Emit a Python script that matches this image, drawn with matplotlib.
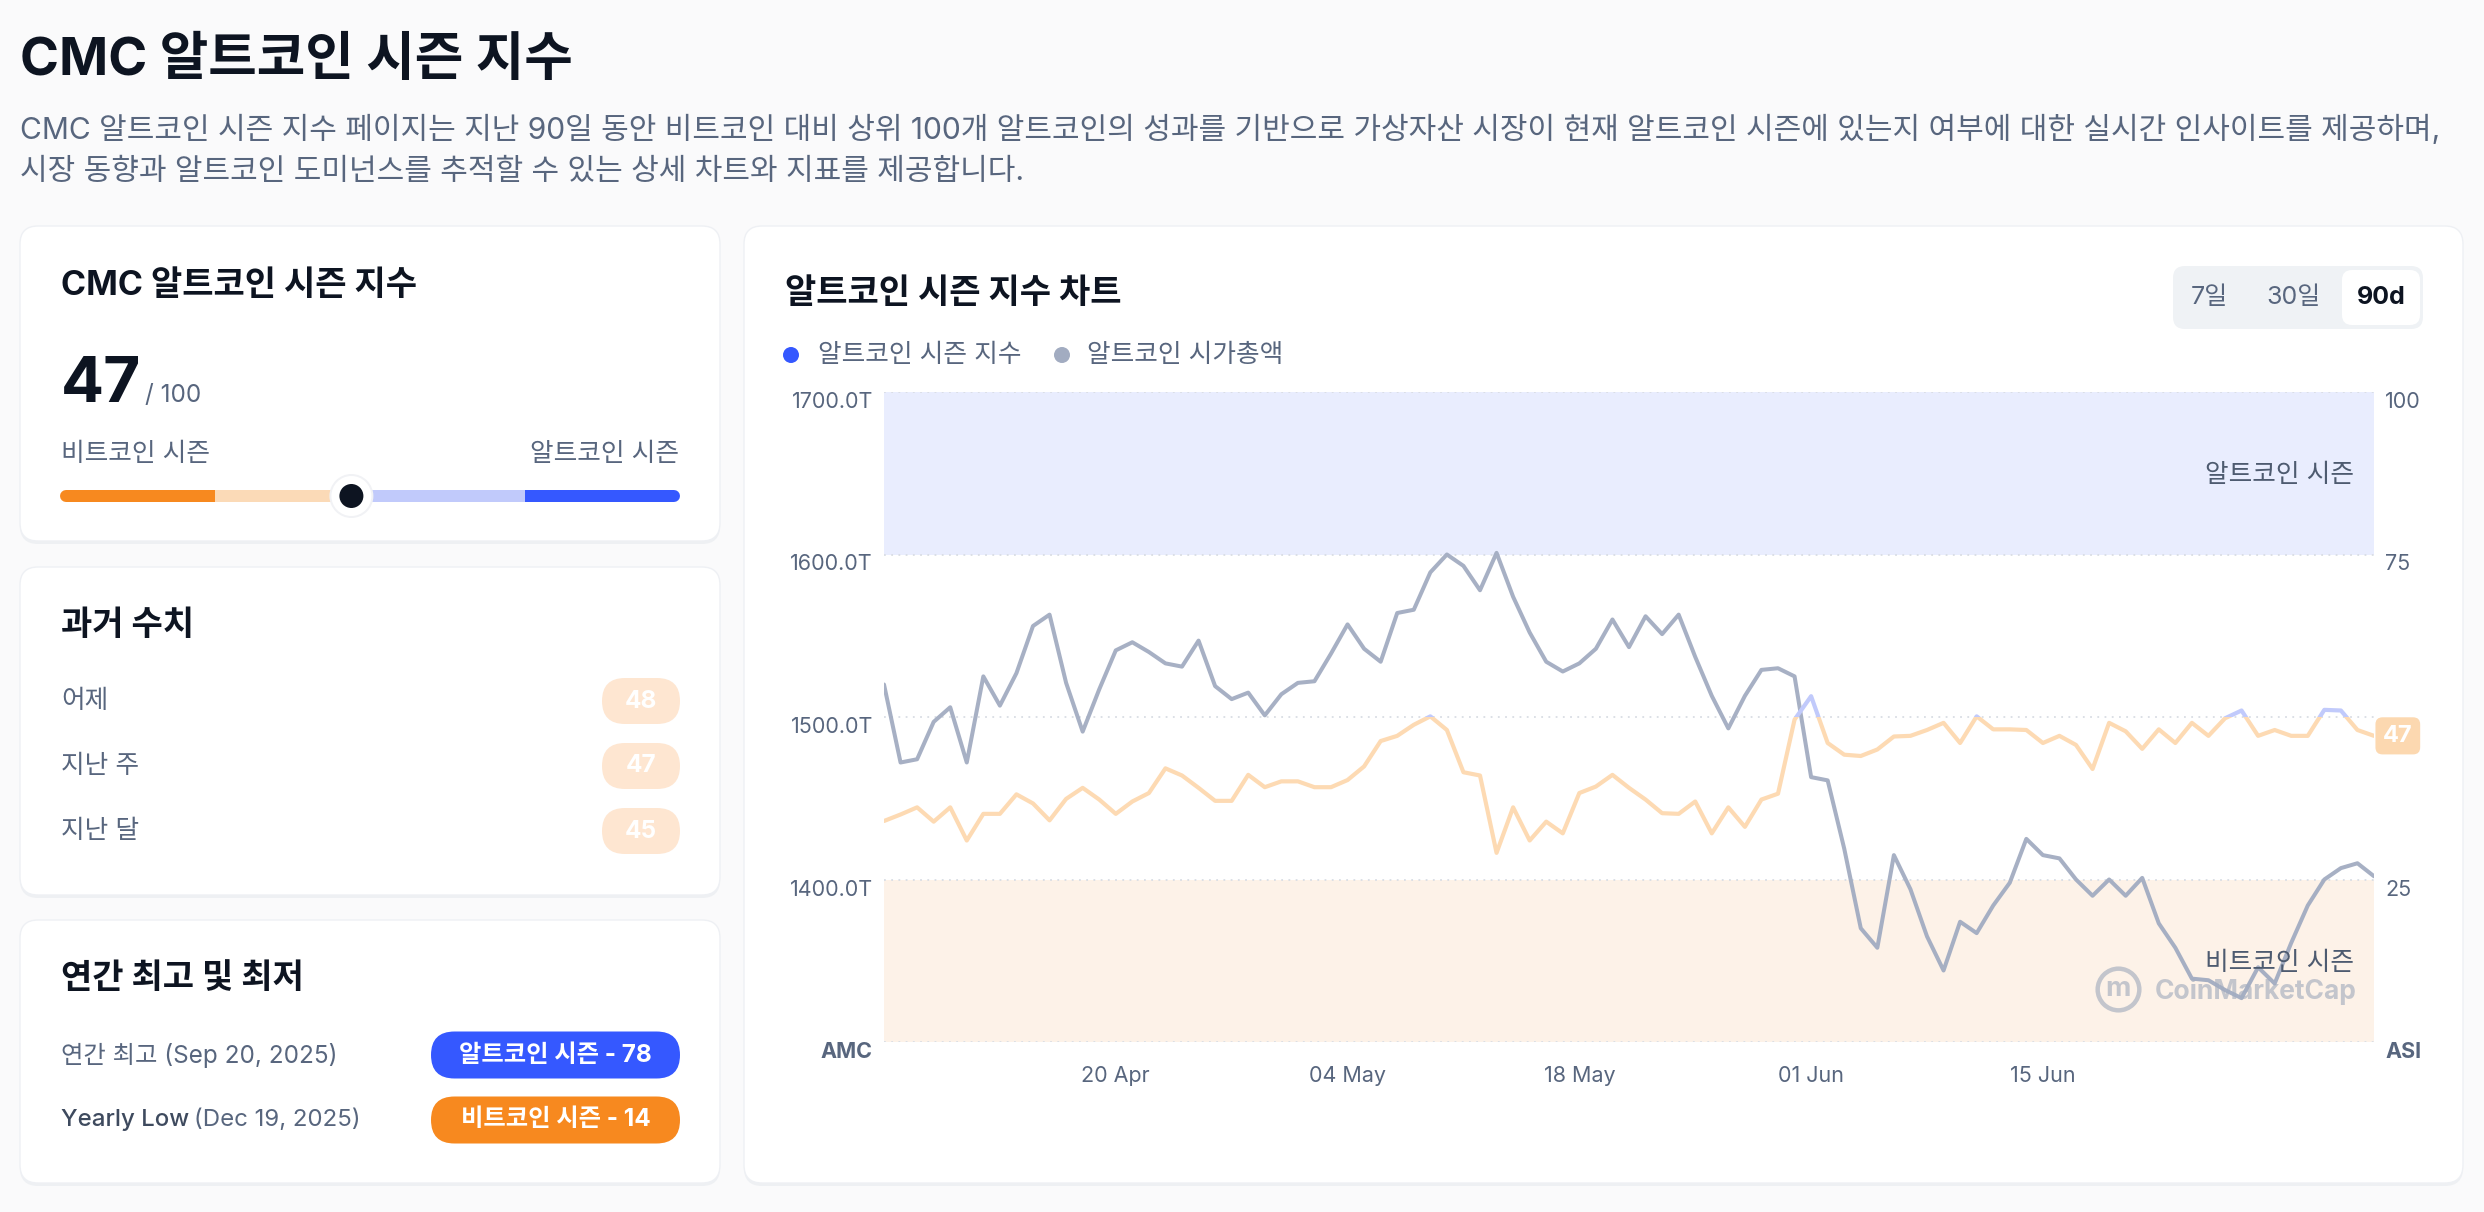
import matplotlib
matplotlib.use("Agg")
import numpy as np
import pandas as pd
import matplotlib.pyplot as plt
from matplotlib.patches import FancyBboxPatch, Circle, Rectangle

plt.rcParams['font.family'] = ['Inter', 'Noto Sans CJK KR', 'DejaVu Sans']

# ---- data ----
start_date = "2026-04-06"

# altcoin market cap, trillions (left axis)
market_cap = [
    1520, 1472, 1474, 1497, 1506, 1472, 1525, 1507, 1527, 1556,
    1563, 1521, 1491, 1517, 1541, 1546, 1540, 1533, 1531, 1547,
    1519, 1511, 1515, 1501, 1514, 1521, 1522, 1539, 1557, 1542,
    1534, 1564, 1566, 1589, 1600, 1593, 1578, 1601, 1574, 1552,
    1534, 1528, 1533, 1542, 1560, 1543, 1562, 1551, 1563, 1537,
    1513, 1493, 1513, 1529, 1530, 1525, 1463, 1461, 1419, 1370,
    1358, 1415, 1394, 1365, 1344, 1374, 1367, 1384, 1398, 1425,
    1415, 1413, 1400, 1390, 1400, 1390, 1401, 1373, 1358, 1339,
    1338, 1332, 1327, 1346, 1336, 1361, 1384, 1400, 1407, 1410,
    1402,
]

# altcoin season index 0-100 (right axis)
season_index = [
    34.0, 35.0, 36.1, 33.9, 36.1, 31.0, 35.1, 35.1, 38.1, 36.7,
    34.1, 37.4, 39.1, 37.3, 35.1, 37.0, 38.3, 42.1, 41.0, 39.1,
    37.1, 37.1, 41.1, 39.2, 40.1, 40.1, 39.2, 39.2, 40.3, 42.4,
    46.3, 47.1, 48.8, 50.1, 48.0, 41.5, 41.0, 29.1, 36.1, 31.0,
    33.9, 32.1, 38.3, 39.3, 41.1, 39.1, 37.3, 35.2, 35.1, 37.0,
    32.1, 36.1, 33.1, 37.3, 38.2, 49.6, 53.2, 46.0, 44.2, 44.0,
    45.0, 47.0, 47.1, 48.0, 49.1, 46.0, 50.1, 48.1, 48.1, 48.0,
    46.0, 47.1, 45.7, 42.0, 49.1, 47.8, 45.1, 48.1, 46.0, 49.1,
    47.1, 49.8, 51.0, 47.1, 48.0, 47.1, 47.1, 51.1, 51.0, 48.0,
    47.1,
]

dates = pd.date_range(start_date, periods=len(market_cap), freq="D")
date_ticks = ["2026-04-20", "2026-05-04", "2026-05-18", "2026-06-01", "2026-06-15"]
cap_ticks = [1300, 1400, 1500, 1600, 1700]
index_ticks = [0, 25, 50, 75, 100]

current_index = 47
history_labels = ["어제", "지난 주", "지난 달"]
history_values = [48, 47, 45]
yearly_labels = ["연간 최고 (Sep 20, 2025)", "Yearly Low (Dec 19, 2025)"]
yearly_values = [78, 14]
yearly_seasons = ["알트코인 시즌", "비트코인 시즌"]
range_buttons = ["7일", "30일", "90d"]

# ---- colours ----
DARK = '#0D1421'
GREY = '#58667E'
ORANGE = '#F7891F'
ORANGE_LIGHT = '#FBDAB7'
BLUE = '#3558FF'
BLUE_LIGHT = '#C1CAFB'
LINE_GREY = '#A2ACC1'

W, H = 2484, 1212
fig = plt.figure(figsize=(W / 100, H / 100), dpi=100)
fig.patch.set_facecolor('#FAFAFB')

# background axes in pixel units (y grows downward)
bg = fig.add_axes([0, 0, 1, 1])
bg.set_xlim(0, W)
bg.set_ylim(H, 0)
bg.axis('off')


def card(x0, y0, x1, y1):
    bg.add_patch(FancyBboxPatch((x0, y0 + 3), x1 - x0, y1 - y0,
                                boxstyle="round,pad=0,rounding_size=18",
                                fc='#EEF0F3', ec='none', zorder=1))
    bg.add_patch(FancyBboxPatch((x0, y0), x1 - x0, y1 - y0,
                                boxstyle="round,pad=0,rounding_size=18",
                                fc='white', ec='#EEF0F4', lw=1, zorder=2))


def pill(x0, x1, yc, h, color, label, size=17.5):
    bg.add_patch(FancyBboxPatch((x0, yc - h / 2), x1 - x0, h,
                                boxstyle="round,pad=0,rounding_size=%f" % (h / 2),
                                fc=color, ec='none', zorder=3))
    bg.text((x0 + x1) / 2, yc, label, fontsize=size, color='white',
            fontweight='bold', ha='center', va='center', zorder=4)


def txt(x, y, s, size, color=GREY, weight='normal', ha='left', va='center'):
    return bg.text(x, y, s, fontsize=size, color=color, fontweight=weight,
                   ha=ha, va=va, zorder=4)


# ---- header ----
txt(20, 61, "CMC 알트코인 시즌 지수", 38, DARK, 'bold')
txt(20, 130, "CMC 알트코인 시즌 지수 페이지는 지난 90일 동안 비트코인 대비 상위 100개 알트코인의 성과를 "
             "기반으로 가상자산 시장이 현재 알트코인 시즌에 있는지 여부에 대한 실시간 인사이트를 제공하며,", 21.6)
txt(20, 172, "시장 동향과 알트코인 도미넌스를 추적할 수 있는 상세 차트와 지표를 제공합니다.", 21.6)

# ---- card 1: current index ----
card(20, 226, 720, 541)
txt(61, 286, "CMC 알트코인 시즌 지수", 24.5, DARK, 'bold')
txt(61, 402, str(current_index), 46, DARK, 'bold', va='baseline')
txt(145, 402, "/ 100", 17.5, GREY, va='baseline')
txt(61, 454, "비트코인 시즌", 18.5)
txt(679, 454, "알트코인 시즌", 18.5, ha='right')

bar_x0, bar_x1, bar_y = 60, 680, 496
def bar_x(v):
    return bar_x0 + (bar_x1 - bar_x0) * v / 100

lw_bar = 12 * 0.72
bg.plot([bar_x(0) + 6, bar_x(25)], [bar_y, bar_y], color=ORANGE, lw=lw_bar,
        solid_capstyle='round', zorder=3)
bg.plot([bar_x(75), bar_x(100) - 6], [bar_y, bar_y], color=BLUE, lw=lw_bar,
        solid_capstyle='round', zorder=3)
bg.plot([bar_x(25), bar_x(50)], [bar_y, bar_y], color=ORANGE_LIGHT, lw=lw_bar,
        solid_capstyle='butt', zorder=3)
bg.plot([bar_x(50), bar_x(75)], [bar_y, bar_y], color=BLUE_LIGHT, lw=lw_bar,
        solid_capstyle='butt', zorder=3)
bg.add_patch(Circle((bar_x(current_index), bar_y), 22, fc='#F1F2F5', ec='none', zorder=4))
bg.add_patch(Circle((bar_x(current_index), bar_y), 20, fc='white', ec='none', zorder=4))
bg.add_patch(Circle((bar_x(current_index), bar_y), 12, fc=DARK, ec='none', zorder=5))

# ---- card 2: history ----
card(20, 567, 720, 895)
txt(61, 626, "과거 수치", 24.5, DARK, 'bold')
for i, (lab, val) in enumerate(zip(history_labels, history_values)):
    yc = 701 + i * 65
    txt(61, yc, lab, 18.5)
    pill(602, 680, yc, 46, '#FEE6D1', str(val))

# ---- card 3: yearly high / low ----
card(20, 920, 720, 1183)
txt(61, 979, "연간 최고 및 최저", 24.5, DARK, 'bold')
pill_colors = [BLUE, ORANGE]
for i, (lab, val, season) in enumerate(zip(yearly_labels, yearly_values, yearly_seasons)):
    yc = 1055 + i * 65
    if lab.startswith("Yearly"):
        head, tail = lab.split(" (")
        t = txt(61, yc, head, 17.3, '#3E4A5E', 'medium')
        fig.canvas.draw()
        bb = t.get_window_extent()
        txt(61 + bb.width + 5, yc, "(" + tail, 17.3)
    else:
        txt(61, yc, lab, 17.5)
    pill(431, 680, yc, 47, pill_colors[i], f"{season} - {val}")

# ---- chart card ----
card(744, 226, 2463, 1183)
txt(785, 294, "알트코인 시즌 지수 차트", 24.5, DARK, 'bold')
bg.add_patch(Circle((791, 355), 8, fc=BLUE, ec='none', zorder=4))
txt(818, 355, "알트코인 시즌 지수", 18.5)
bg.add_patch(Circle((1062, 355), 8, fc=LINE_GREY, ec='none', zorder=4))
txt(1087, 355, "알트코인 시가총액", 18.5)

# range selector
bg.add_patch(FancyBboxPatch((2173, 266), 250, 63, boxstyle="round,pad=0,rounding_size=12",
                            fc='#EFF2F5', ec='none', zorder=3))
bg.add_patch(FancyBboxPatch((2342, 270), 78, 55, boxstyle="round,pad=0,rounding_size=10",
                            fc='white', ec='none', zorder=3))
for cx, lab in zip([2209, 2293, 2381], range_buttons):
    sel = lab == "90d"
    txt(cx, 298, lab, 18, DARK if sel else GREY, 'bold' if sel else 'normal', ha='center')

# ---- the plot ----
ax = fig.add_axes([884 / W, 1 - 1042 / H, (2374 - 884) / W, (1042 - 392) / H])
ax.set_zorder(3)
ax.patch.set_alpha(0)
ax.set_xlim(dates[0], dates[-1])
ax.set_ylim(cap_ticks[0], cap_ticks[-1])
ax.axhspan(1600, 1700, color='#E9EDFE', lw=0, zorder=0)
ax.axhspan(1300, 1400, color='#FDF2E8', lw=0, zorder=0)
for v in cap_ticks:
    ax.axhline(v, color='#D9DDE4', lw=1.3, ls=(0, (1, 3)), zorder=1)
ax.plot(dates, market_cap, color=LINE_GREY, lw=2.9, alpha=0.95, zorder=3,
        solid_joinstyle='round', solid_capstyle='round')
for s in ax.spines.values():
    s.set_visible(False)
ax.set_yticks(cap_ticks)
ax.set_yticklabels(["AMC"] + [f"{v:.1f}T" for v in cap_ticks[1:]])
ax.set_xticks(pd.to_datetime(date_ticks))
ax.set_xticklabels([pd.Timestamp(d).strftime("%d %b") for d in date_ticks])
ax.tick_params(length=0, labelsize=15.5, labelcolor=GREY)
ax.tick_params(axis='y', pad=8)
ax.tick_params(axis='x', pad=17)
for lab in ax.get_yticklabels():
    lab.set_va('top')
ax.get_yticklabels()[0].set_fontweight('bold')

# watermark
ax.plot([0.828], [0.0815], marker='o', ms=30, mfc='none', mec='#C3C5CC', mew=3.2,
        transform=ax.transAxes, zorder=2)
ax.text(0.828, 0.0815, "m", transform=ax.transAxes, fontsize=20, color='#C3C5CC',
        fontweight='bold', ha='center', va='center', zorder=2)
ax.text(0.853, 0.0774, "CoinMarketCap", transform=ax.transAxes, fontsize=19,
        color='#C3C5CC', fontweight='bold', ha='left', va='center', zorder=2)

ax2 = ax.twinx()
ax2.set_ylim(index_ticks[0], index_ticks[-1])
for s in ax2.spines.values():
    s.set_visible(False)
ax2.set_yticks(index_ticks)
# the 50 label sits under the current-value badge, so it is left blank
ax2.set_yticklabels(["ASI"] + [str(v) if v != 50 else "" for v in index_ticks[1:]])
ax2.tick_params(length=0, labelsize=15.5, labelcolor=GREY, pad=8)
for lab in ax2.get_yticklabels():
    lab.set_va('top')
ax2.get_yticklabels()[0].set_fontweight('bold')

low, = ax2.plot(dates, season_index, color='#FDDAB3', lw=3, zorder=3,
                solid_joinstyle='round', solid_capstyle='round')
high, = ax2.plot(dates, season_index, color=BLUE_LIGHT, lw=3, zorder=3,
                 solid_joinstyle='round', solid_capstyle='round')
low.set_clip_path(Rectangle((0, -0.1), 1, 0.6, transform=ax2.transAxes))
high.set_clip_path(Rectangle((0, 0.5), 1, 0.6, transform=ax2.transAxes))

ax2.text(0.9866, 0.871, "알트코인 시즌", transform=ax2.transAxes, fontsize=18.5,
         color='#4E5B70', ha='right', va='center', zorder=5)
ax2.text(0.9866, 0.1215, "비트코인 시즌", transform=ax2.transAxes, fontsize=18.5,
         color='#4E5B70', ha='right', va='center', zorder=5)

ax2.annotate(str(current_index), xy=(1, season_index[-1]),
             xycoords=('axes fraction', 'data'), xytext=(9, 0),
             textcoords='offset pixels', ha='left', va='center',
             fontsize=17, color='white', fontweight='bold', zorder=6,
             bbox=dict(boxstyle='round,pad=0.32,rounding_size=0.3',
                       fc='#FCD8B0', ec='none'),
             annotation_clip=False)

fig.savefig("out.png", dpi=100, facecolor=fig.get_facecolor())
